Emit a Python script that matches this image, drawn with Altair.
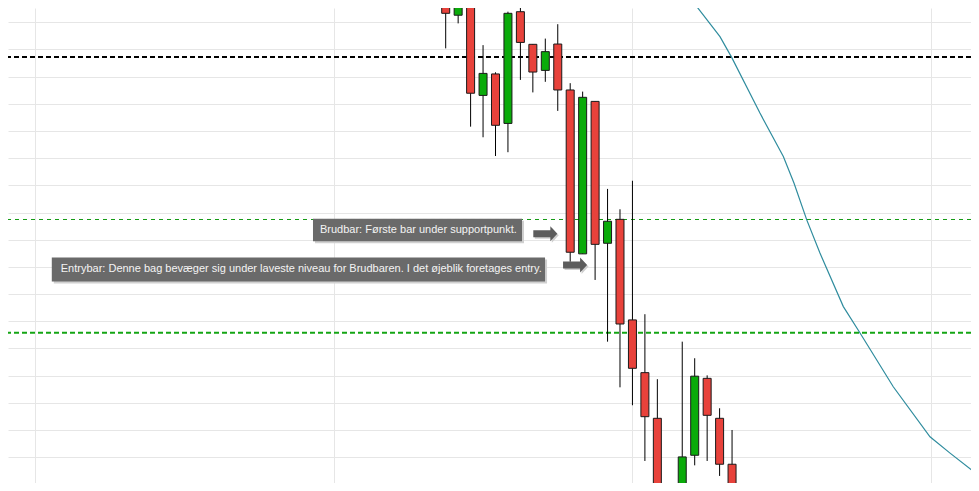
import altair as alt
import pandas as pd

# ---- data ----
bar_index = list(range(24))
opens  = [119.11, 118.26, 119.04, 115.31, 116.10, 114.28, 118.39, 117.19, 116.23, 117.20, 115.51, 109.48,
          115.09, 109.87, 110.75, 107.05, 105.11, 103.43, 99.90, 99.69, 102.07, 104.90, 103.43, 101.74]
closes = [118.33, 119.00, 115.39, 116.12, 114.21, 118.33, 117.26, 116.17, 116.92, 115.51, 109.54, 115.24,
          109.83, 110.68, 106.90, 105.27, 103.49, 99.69, 99.20, 102.01, 104.98, 103.54, 101.74, 100.06]
highs  = [119.56, 119.19, 119.19, 117.16, 116.16, 118.39, 119.00, 117.20, 117.40, 117.93, 115.76, 115.45,
          115.09, 111.87, 111.12, 112.17, 107.26, 104.87, 100.40, 106.25, 105.64, 105.01, 103.80, 103.00]
lows   = [117.04, 117.96, 114.16, 113.77, 113.08, 113.22, 115.88, 115.42, 115.81, 114.74, 109.19, 109.48,
          108.52, 106.25, 104.57, 103.91, 101.86, 99.00, 98.80, 99.30, 101.70, 101.86, 101.31, 99.80]

ma_index = [18.82, 19.76, 22.03, 22.97, 25.24, 27.12, 27.98, 29.00, 30.06, 31.94, 33.28, 35.95, 38.90, 40.51, 42.84]
ma_value = [119.37, 118.82, 117.47, 116.71, 114.66, 113.06, 112.08, 110.73, 109.51, 107.54, 106.57, 104.59,
            102.75, 102.15, 101.31]

resistance_level = 116.72
support_level = 110.745
entry_level = 106.58

x_grid_values = [-33, -9, 15, 39]
y_grid_values = list(range(101, 119))

note_text = ["Brudbar: Første bar under supportpunkt.",
             "Entrybar: Denne bag bevæger sig under laveste niveau for Brudbaren. I det øjeblik foretages entry."]
note_x1 = [-10.66, -31.64]
note_x2 = [6.13, 7.98]
note_y1 = [110.77, 109.35]
note_y2 = [109.94, 108.46]
note_tx = [-10.10, -30.92]
note_ty = [110.36, 108.91]
arrow_x = [8.0, 10.39]
arrow_y = [110.22, 109.07]

# ---- tables ----
candles = pd.DataFrame({"i": bar_index, "open": opens, "close": closes, "high": highs, "low": lows})
candles["dir"] = ["up" if c >= o else "down" for o, c in zip(opens, closes)]
ma = pd.DataFrame({"i": ma_index, "v": ma_value})
notes = pd.DataFrame({"text": note_text, "x1": note_x1, "x2": note_x2, "y1": note_y1, "y2": note_y2,
                      "tx": note_tx, "ty": note_ty})
arrows = pd.DataFrame({"x": arrow_x, "y": arrow_y})
levels = pd.DataFrame({"v": [resistance_level, support_level, entry_level],
                       "kind": ["res", "sup", "entry"]})

W, H = 963, 475
xs = alt.Scale(domain=[-35.157, 42.193], nice=False, zero=False, padding=0)
ys = alt.Scale(domain=[101.050, 118.526], nice=False, zero=False, padding=0)
xaxis = alt.Axis(values=x_grid_values, labels=False, ticks=False, domain=False, title=None,
                 grid=True, gridColor="#e6e6e6", gridWidth=1)
yaxis = alt.Axis(values=y_grid_values, labels=False, ticks=False, domain=False, title=None,
                 grid=True, gridColor="#e6e6e6", gridWidth=1)


def X(field):
    return alt.X(field, scale=xs, axis=xaxis)


def Y(field):
    return alt.Y(field, scale=ys, axis=yaxis)


base = alt.Chart(candles)

wicks = base.mark_rule(color="#000000", strokeWidth=1, clip=True).encode(
    x=X("i:Q"), y=Y("low:Q"), y2="high:Q",
)

bodies = base.mark_bar(size=8, stroke="#1a1a1a", strokeWidth=1, clip=True).encode(
    x=X("i:Q"), y=Y("open:Q"), y2="close:Q",
    color=alt.Color("dir:N", scale=alt.Scale(domain=["up", "down"], range=["#0aab0a", "#e8423b"]), legend=None),
)

res_line = alt.Chart(levels[levels.kind == "res"]).mark_rule(
    color="#000000", strokeWidth=2, strokeDash=[5, 3]).encode(y=Y("v:Q"))
sup_line = alt.Chart(levels[levels.kind == "sup"]).mark_rule(
    color="#159a15", strokeWidth=1, strokeDash=[4, 4]).encode(y=Y("v:Q"))
entry_line = alt.Chart(levels[levels.kind == "entry"]).mark_rule(
    color="#14a514", strokeWidth=2, strokeDash=[5, 3]).encode(y=Y("v:Q"))

ma_line = alt.Chart(ma).mark_line(color="#2f8c9e", strokeWidth=1.2, clip=True).encode(
    x=X("i:Q"), y=Y("v:Q"), order="i:Q")

nb = alt.Chart(notes)
shadow = nb.mark_rect(color="#d0d0d0", xOffset=2, x2Offset=2, yOffset=2, y2Offset=2).encode(
    x=X("x1:Q"), x2="x2:Q", y=Y("y1:Q"), y2="y2:Q")
box = nb.mark_rect(color="#6a6a6a").encode(
    x=X("x1:Q"), x2="x2:Q", y=Y("y1:Q"), y2="y2:Q")
label = nb.mark_text(align="left", baseline="middle", color="#f4f4f4", font="Liberation Sans",
                     fontSize=11).encode(
    x=X("tx:Q"), y=Y("ty:Q"), text="text:N")

arrow_shape = "M -1 -0.3 L 0.42 -0.3 L 0.42 -0.62 L 1 0 L 0.42 0.62 L 0.42 0.3 L -1 0.3 Z"
arrow_shadow = alt.Chart(arrows).mark_point(shape=arrow_shape, size=576, filled=True, color="#cfcfcf",
                                            opacity=1, xOffset=1.5, yOffset=1.5).encode(
    x=X("x:Q"), y=Y("y:Q"))
arrow = alt.Chart(arrows).mark_point(shape=arrow_shape, size=576, filled=True, color="#5c5c5c",
                                     opacity=1).encode(
    x=X("x:Q"), y=Y("y:Q"))

chart = alt.layer(res_line, sup_line, entry_line, ma_line, wicks, bodies,
                  shadow, box, label, arrow_shadow, arrow).properties(
    width=W, height=H, padding=0, background="#ffffff",
    autosize=alt.AutoSizeParams(type="none")
).configure_view(stroke=None).configure_scale(continuousPadding=0)

chart.save("out.html", embed_options={"renderer": "svg", "actions": False})
